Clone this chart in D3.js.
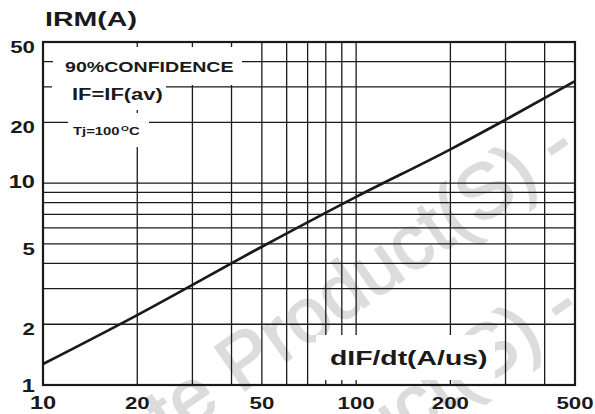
<!DOCTYPE html>
<html>
<head>
<meta charset="utf-8">
<script src="https://cdn.jsdelivr.net/npm/d3@7"></script>
<style>
  html, body { margin: 0; padding: 0; background: #fff; }
  svg { display: block; }
</style>
</head>
<body>
<svg id="chart" width="595" height="414"></svg>
<script>
// ---- data ----
const curveX = [10, 20, 50, 100, 200, 300, 500];
const curveY = [1.27, 2.22, 4.84, 8.55, 14.7, 20.6, 32];
const xGridValues = [20, 30, 40, 50, 60, 70, 80, 90, 100, 200, 300, 400];
const yGridValues = [2, 3, 4, 5, 6, 7, 8, 9, 10, 20, 30, 40];
const xTickLabels = [10, 20, 50, 100, 200, 500];
const yTickLabels = [1, 2, 5, 10, 20, 50];
const yAxisTitle = "IRM(A)";
const xAxisTitle = "dIF/dt(A/us)";
const noteLines = ["90%CONFIDENCE", "IF=IF(av)", "Tj=100", "O", "C"];
const watermarkHead = "te\u00a0";
const watermarkBody = "Product(S) -";

// ---- layout ----
const W = 595, H = 414;
const L = 43, R = 575, T = 42, B = 385;
const SX = 1.35;
const FONT = "'Liberation Sans', Arial, Helvetica, sans-serif";

const svg = d3.select("#chart");
svg.append("rect").attr("width", W).attr("height", H).attr("fill", "#fff");

const x = d3.scaleLog().domain([10, 500]).range([L, R]);
const y = d3.scaleLog().domain([1, 50]).range([B, T]);

function label(g, str, px, py, size, anchor, sx, weight) {
  return g.append("text")
    .attr("transform", `translate(${px},${py}) scale(${sx == null ? SX : sx},1)`)
    .attr("text-anchor", anchor || "start")
    .attr("fill", "#1a1a1a")
    .style("font-family", FONT)
    .style("font-weight", weight || "bold")
    .style("font-size", size + "px")
    .text(str);
}

// ---- watermark (rotated light-grey text) ----
const wm = svg.append("g").attr("fill", "#dcdcdc").attr("stroke", "#dcdcdc").attr("stroke-width", 1.8)
  .style("font-family", FONT).style("font-size", "77px");
const g1 = wm.append("g").attr("transform", "translate(240,394) rotate(-35)");
g1.append("text").attr("text-anchor", "end").text(watermarkHead);
g1.append("text").attr("text-anchor", "start").text(watermarkBody);
const g2 = wm.append("g").attr("transform", "translate(244,554) rotate(-35)");
g2.append("text").attr("text-anchor", "start").text(watermarkBody);

// ---- grid ----
const grid = svg.append("g").attr("stroke", "#1a1a1a").attr("stroke-width", 1.3);
grid.selectAll("line.vx").data(xGridValues).join("line")
  .attr("x1", d => x(d)).attr("x2", d => x(d))
  .attr("y1", T).attr("y2", B);
grid.selectAll("line.hy").data(yGridValues).join("line")
  .attr("x1", L).attr("x2", R)
  .attr("y1", d => y(d)).attr("y2", d => y(d));

// ---- white label boxes ----
const boxes = svg.append("g").attr("fill", "#fff");
boxes.append("rect").attr("x", 53).attr("y", 47).attr("width", 189).attr("height", 38);
boxes.append("rect").attr("x", 52).attr("y", 80).attr("width", 114).attr("height", 30);
boxes.append("rect").attr("x", 68).attr("y", 113).attr("width", 81).attr("height", 34);
boxes.append("rect").attr("x", 316).attr("y", 335).attr("width", 179).attr("height", 45);

// ---- frame ----
svg.append("rect").attr("x", L).attr("y", T).attr("width", R - L).attr("height", B - T)
  .attr("fill", "none").attr("stroke", "#1a1a1a").attr("stroke-width", 2.2);

// ---- curve ----
const line = d3.line().x((d, i) => x(curveX[i])).y(d => y(d)).curve(d3.curveMonotoneX);
svg.append("path").datum(curveY)
  .attr("d", line)
  .attr("fill", "none").attr("stroke", "#1a1a1a").attr("stroke-width", 2.7);

// ---- tick labels ----
const tl = svg.append("g");
yTickLabels.forEach(v => {
  const off = v === 10 ? 5 : (v === 1 ? 7 : 11);
  label(tl, String(v), 35, y(v) + off, v === 1 || v === 10 ? 17.5 : 16.5, "end");
});
xTickLabels.forEach(v => {
  label(tl, String(v), x(v), 409, v === 10 ? 17.5 : 16.5, "middle");
});

// ---- titles ----
label(svg, yAxisTitle, 45, 26, 21, "start", 1.36);
label(svg, xAxisTitle, 330, 365, 21, "start", 1.35);

// ---- notes ----
label(svg, noteLines[0], 65, 71.7, 14.5, "start", 1.35);
label(svg, noteLines[1], 72, 100, 16.5, "start", 1.33);
label(svg, noteLines[2], 73, 135, 11, "start", 1.35);
label(svg, noteLines[3], 121, 130.5, 7.5, "start", 1.35);
label(svg, noteLines[4], 129, 135, 11, "start", 1.35);
</script>
</body>
</html>
